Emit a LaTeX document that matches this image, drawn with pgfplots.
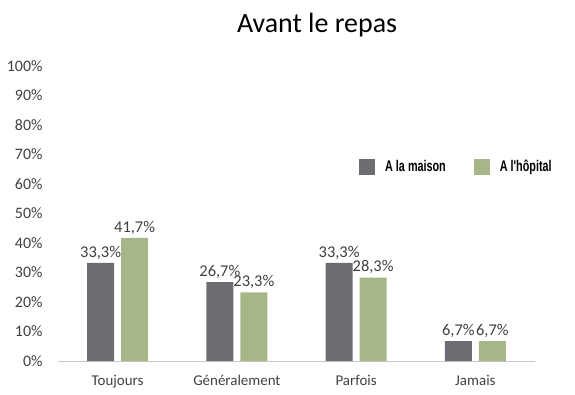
\documentclass[border=0pt]{standalone}
\usepackage{pgfplots}
\pgfplotsset{compat=1.18}
\usepackage{fontspec}
\setmainfont{Carlito}
\newfontfamily\legfont[FakeStretch=0.7]{Liberation Sans}
\definecolor{darkbar}{RGB}{110,108,114}
\definecolor{greenbar}{RGB}{166,182,137}
\definecolor{txt}{RGB}{64,64,64}
\definecolor{axisgray}{RGB}{200,200,200}
\begin{document}
\begin{tikzpicture}
\path[use as bounding box] (0,0) rectangle (575bp,395bp);
\node[font=\fontsize{28}{31}\selectfont, text=black] at (317bp,370bp) {Avant le repas};
\begin{axis}[
  at={(58bp,34bp)}, anchor=south west,
  scale only axis, width=477bp, height=295bp,
  ybar, bar width=27bp,
  ymin=0, ymax=100, xmin=-0.5, xmax=3.5,
  xtick={0,1,2,3},
  xticklabels={Toujours,Généralement,Parfois,Jamais},
  ytick={0,10,...,100},
  yticklabel={\pgfmathprintnumber{\tick}\%},
  /pgf/number format/assume math mode=true,
  axis x line*=bottom, axis y line*=left,
  x axis line style={axisgray, line width=1pt, -},
  y axis line style={draw=none},
  major tick length=0pt,
  tick label style={font=\fontsize{16}{18}\selectfont, text=txt},
  xticklabel style={yshift=-11bp, font=\fontsize{15}{17}\selectfont},
  yticklabel style={xshift=-12bp},
  nodes near coords={\pgfmathprintnumber[fixed,fixed zerofill,precision=1,use comma]{\pgfplotspointmeta}\%},
  every node near coord/.append style={font=\fontsize{16.5}{18}\selectfont, text=txt},
  legend style={draw=none, fill=none, at={(0.631,0.658)}, anchor=west,
    legend columns=2, font=\legfont\bfseries\fontsize{15.5}{17}\selectfont,
    /tikz/every odd column/.append style={column sep=10bp},
    /tikz/every even column/.append style={column sep=28bp},
    nodes={inner sep=0pt},
    inner sep=0pt},
  legend image code/.code={\fill[#1,draw=none] (0bp,-8bp) rectangle (16bp,8bp);},
  clip=false,
]
\addplot[fill=darkbar, draw=none, bar shift=-17bp] coordinates {(0,33.3) (1,26.7) (2,33.3) (3,6.7)};
\addplot[fill=greenbar, draw=none, bar shift=17bp] coordinates {(0,41.7) (1,23.3) (2,28.3) (3,6.7)};
\legend{A la maison, A l'hôpital}
\end{axis}
\end{tikzpicture}
\end{document}
